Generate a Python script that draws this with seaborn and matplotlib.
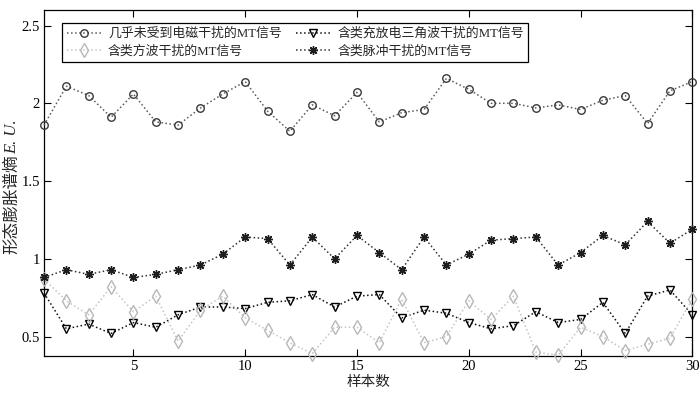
import numpy as np
import pandas as pd
import seaborn as sns
import matplotlib
matplotlib.use("Agg")
import matplotlib.pyplot as plt

# ---- data ----
samples = list(range(1, 31))
s_clean = [1.86, 2.11, 2.05, 1.91, 2.06, 1.88, 1.86, 1.97, 2.06, 2.14,
           1.95, 1.82, 1.99, 1.92, 2.07, 1.88, 1.94, 1.96, 2.16, 2.09,
           2.00, 2.00, 1.97, 1.99, 1.96, 2.02, 2.05, 1.87, 2.08, 2.14]
s_tri = [0.78, 0.55, 0.58, 0.52, 0.59, 0.56, 0.64, 0.69, 0.69, 0.68,
         0.72, 0.73, 0.77, 0.69, 0.76, 0.77, 0.62, 0.67, 0.65, 0.59,
         0.55, 0.57, 0.66, 0.59, 0.61, 0.72, 0.52, 0.76, 0.80, 0.64]
s_square = [0.87, 0.73, 0.64, 0.82, 0.66, 0.76, 0.47, 0.67, 0.76, 0.62,
            0.54, 0.46, 0.39, 0.56, 0.56, 0.46, 0.74, 0.46, 0.50, 0.73,
            0.61, 0.76, 0.40, 0.38, 0.56, 0.50, 0.41, 0.45, 0.49, 0.74]
s_pulse = [0.88, 0.93, 0.90, 0.93, 0.88, 0.90, 0.93, 0.96, 1.03, 1.14,
           1.13, 0.96, 1.14, 1.00, 1.15, 1.04, 0.93, 1.14, 0.96, 1.03,
           1.12, 1.13, 1.14, 0.96, 1.04, 1.15, 1.09, 1.24, 1.10, 1.19]
labels = ["几乎未受到电磁干扰的MT信号", "含类充放电三角波干扰的MT信号",
          "含类方波干扰的MT信号", "含类脉冲干扰的MT信号"]
xticks = [5, 10, 15, 20, 25, 30]
yticks = [0.5, 1, 1.5, 2, 2.5]
ytick_labels = ["0.5", "1", "1.5", "2", "2.5"]

sns.set_theme(style="ticks")
FAM = ["Liberation Serif", "Noto Sans CJK SC", "DejaVu Sans"]
plt.rcParams["font.family"] = FAM
plt.rcParams["xtick.direction"] = "in"
plt.rcParams["ytick.direction"] = "in"

fig = plt.figure(figsize=(7.0, 3.93), dpi=100)
ax = fig.add_axes([44 / 700, 1 - 356 / 393, (692.3 - 44) / 700, (356 - 10) / 393])

styles = [
    dict(y=s_clean, marker="o", ms=5.4, lc="#5a5a5a", mc="#3a3a3a", label=labels[0]),
    dict(y=s_tri, marker="v", ms=6.2, lc="#111111", mc="#000000", label=labels[1]),
    dict(y=s_square, marker="d", ms=6.8, lc="#c4c4c4", mc="#b8b8b8", label=labels[2]),
    dict(y=s_pulse, marker=(8, 2, 0), ms=6.2, lc="#333333", mc="#1e1e1e", label=labels[3]),
]
handles = []
for st in styles:
    df = pd.DataFrame({"x": samples, "y": st["y"]})
    sns.lineplot(data=df, x="x", y="y", ax=ax, color=st["lc"], linestyle=":",
                 linewidth=1.1, marker=st["marker"], markersize=st["ms"],
                 markerfacecolor="none", markeredgecolor=st["mc"],
                 markeredgewidth=1.0, label=st["label"], legend=False,
                 clip_on=False, zorder=3)
    handles.append(ax.get_lines()[-1])

ax.set_xlim(1, 30)
ax.set_ylim(0.375, 2.6)
ax.set_xticks(xticks)
ax.set_xticklabels([str(t) for t in xticks])
ax.set_yticks(yticks)
ax.set_yticklabels(ytick_labels)
ax.tick_params(axis="both", which="both", direction="in", length=5, width=0.8,
               top=True, right=True, labelsize=10.5, colors="black", pad=3)
for sp in ax.spines.values():
    sp.set_visible(True)
    sp.set_color("black")
    sp.set_linewidth(0.9)
ax.set_xlabel("样本数", fontsize=10.5, labelpad=2, family=FAM)
ax.set_ylabel("")

order = [handles[0], handles[2], handles[1], handles[3]]
leg = ax.legend(handles=order, labels=[h.get_label() for h in order], ncol=2,
                loc="upper left", bbox_to_anchor=(0.028, 0.962),
                prop={"family": FAM, "size": 9.3}, frameon=True, fancybox=False,
                edgecolor="black", framealpha=1, borderpad=0.35,
                handlelength=2.7, handletextpad=0.5, columnspacing=1.1,
                labelspacing=0.4, borderaxespad=0)
leg.get_frame().set_linewidth(0.9)

# y label: Chinese part + italic E. U.
t1 = fig.text(12 / 700, 1 - 254 / 393, "形态膨胀谱熵", rotation=90, ha="center",
              va="bottom", fontsize=12, family=FAM)
fig.canvas.draw()
bb = t1.get_window_extent(renderer=fig.canvas.get_renderer())
top = bb.y1 / fig.dpi / fig.get_figheight()
fig.text(12 / 700, top, "E. U.", rotation=90, ha="center", va="bottom",
         fontsize=12, style="italic", family=FAM)

fig.savefig("out.png", dpi=100)
